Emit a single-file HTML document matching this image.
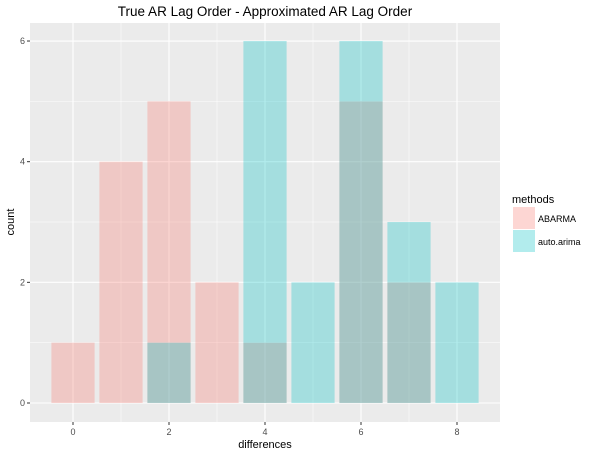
<!DOCTYPE html>
<html><head><meta charset="utf-8"><style>
body{margin:0;background:#fff;font-family:"Liberation Sans",sans-serif}
</style></head><body>
<svg id="c" width="601" height="456" xmlns="http://www.w3.org/2000/svg" font-family="Liberation Sans, sans-serif">
<text x="265" y="16" font-size="13.5" text-anchor="middle" fill="#000">True AR Lag Order - Approximated AR Lag Order</text>
<rect x="30" y="23" width="470" height="399" fill="#ebebeb"/>
<g id="grid"></g>
<g id="bars"></g>
<g id="axes"></g>
<text x="265" y="448" font-size="11" text-anchor="middle">differences</text>
<text x="14" y="222" font-size="11" text-anchor="middle" transform="rotate(-90 14 222)">count</text>
<g>
<text x="512" y="203" font-size="11">methods</text>
<rect x="513" y="207" width="22" height="22" fill="#f8766d" fill-opacity="0.3"/>
<text x="538" y="222" font-size="9">ABARMA</text>
<rect x="513" y="230" width="22" height="22" fill="#00bfc4" fill-opacity="0.3"/>
<text x="538" y="245" font-size="9">auto.arima</text>
</g>
</svg>
<script>
const abarmaX=[0,1,2,3,4,6,7];
const abarmaY=[1,4,5,2,1,5,2];
const autoX=[2,4,5,6,7,8];
const autoY=[1,6,2,6,3,2];
const xTicks=[0,2,4,6,8];
const yTicks=[0,2,4,6];
const NS="http://www.w3.org/2000/svg";
const xs=v=>73+v*48, ys=v=>403-v*60.33;
function mk(tag,attrs,parent){const e=document.createElementNS(NS,tag);for(const k in attrs)e.setAttribute(k,attrs[k]);parent.appendChild(e);return e;}
const grid=document.getElementById('grid'),bars=document.getElementById('bars'),axes=document.getElementById('axes');
for(let v=-1;v<=9;v+=1){const x=xs(v);if(x<30||x>500)continue;const l=mk('line',{x1:x,x2:x,y1:23,y2:422,stroke:'#fff','stroke-width':v%2===0?1.1:0.5},grid);

}
for(let v=0;v<=6;v+=1){const y=ys(v);const l=mk('line',{x1:30,x2:500,y1:y,y2:y,stroke:'#fff','stroke-width':v%2===0?1.1:0.5},grid);

}
function drawBars(X,Y,color,name){X.forEach((x,i)=>{const r=mk('rect',{x:xs(x-0.45),y:ys(Y[i]),width:48*0.9,height:ys(0)-ys(Y[i]),fill:color,'fill-opacity':0.3},bars);

});}
drawBars(abarmaX,abarmaY,'#f8766d','abarma');
drawBars(autoX,autoY,'#00bfc4','auto-arima');
xTicks.forEach(v=>{const x=xs(v);mk('line',{x1:x,x2:x,y1:422,y2:425,stroke:'#333'},axes);
const t=mk('text',{x:x,y:435,'font-size':9,'text-anchor':'middle',fill:'#4d4d4d'},axes);t.textContent=v;

});
yTicks.forEach(v=>{const y=ys(v);mk('line',{x1:27,x2:30,y1:y,y2:y,stroke:'#333'},axes);
const t=mk('text',{x:25,y:y+3,'font-size':9,'text-anchor':'end',fill:'#4d4d4d'},axes);t.textContent=v;

});
</script>
</body></html>
